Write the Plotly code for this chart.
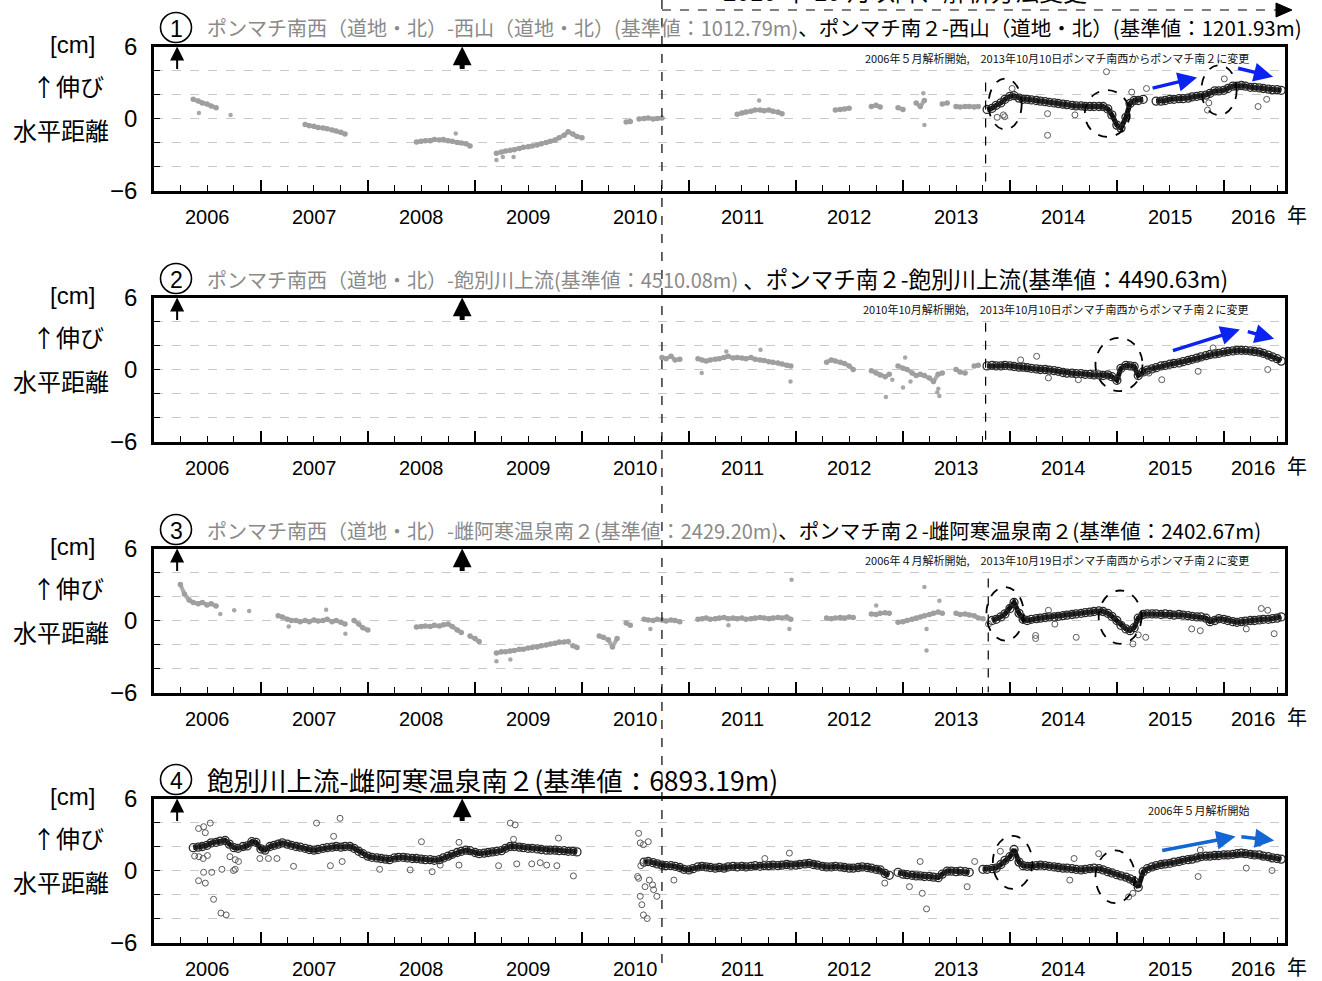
import numpy as np
import pandas as pd
import plotly.graph_objects as go

# ------------------------------------------------------------------ data
x_start, x_end = "2006-01-01", "2016-07-28"
year_labels = ["2006", "2007", "2008", "2009", "2010", "2011", "2012", "2013", "2014", "2015", "2016"]
year_label_dates = ["2006-07-02", "2007-07-02", "2008-07-02", "2009-07-02", "2010-07-02", "2011-07-02",
                    "2012-07-02", "2013-07-02", "2014-07-02", "2015-07-02", "2016-04-10"]
y_tickvals = [-6, -4, -2, 0, 2, 4, 6]
y_ticktext = ["−6", "", "", "0", "", "", "6"]
eruption_dates = ["2006-03-21", "2008-11-18"]
method_change_date = "2010-10-01"
station_change_dates = ["2013-10-10", "2013-10-10", "2013-10-19", None]

panel_numbers = ["1", "2", "3", "4"]
header_grey = ["ポンマチ南西（道地・北）-西山（道地・北）(基準値：1012.79m)",
               "ポンマチ南西（道地・北）-飽別川上流(基準値：4510.08m)",
               "ポンマチ南西（道地・北）-雌阿寒温泉南２(基準値：2429.20m)",
               ""]
header_black = ["、ポンマチ南２-西山（道地・北）(基準値：1201.93m)",
                " 、ポンマチ南２-飽別川上流(基準値：4490.63m)",
                "、ポンマチ南２-雌阿寒温泉南２(基準値：2402.67m)",
                "飽別川上流-雌阿寒温泉南２(基準値：6893.19m)"]
header_grey_size = [20, 20, 20, 20]
header_black_size = [20.5, 22.5, 20.5, 26.5]
notes = ["2006年５月解析開始,　2013年10月10日ポンマチ南西からポンマチ南２に変更",
         "2010年10月解析開始,　2013年10月10日ポンマチ南西からポンマチ南２に変更",
         "2006年４月解析開始,　2013年10月19日ポンマチ南西からポンマチ南２に変更",
         "2006年５月解析開始"]
top_note = "2010 年 10 月以降、解析方法変更"

# ---- panel 1 : semi-monthly readings (start date of each run, values in cm)
p1_grey_starts = ["2006-05-15", "2007-06-01", "2008-06-15", "2009-03-15", "2010-06-01", "2011-06-15",
                  "2012-05-15", "2012-09-15", "2012-12-15", "2013-02-15", "2013-05-15", "2013-07-01"]
p1_grey_values = [
    [1.6, 1.45, 1.3, 1.2, 1.05, 0.9],
    [-0.5, -0.6, -0.65, -0.75, -0.8, -0.85, -0.95, -1.05, -1.15, -1.3],
    [-1.95, -1.9, -1.85, -1.85, -1.75, -1.8, -1.75, -1.85, -1.9, -2.0, -2.05, -2.1, -2.3],
    [-2.9, -2.8, -2.7, -2.65, -2.6, -2.5, -2.4, -2.35, -2.3, -2.2, -2.1, -2.0, -1.9, -1.8, -1.6, -1.4,
     -1.1, -1.3, -1.5, -1.6],
    [-0.3, -0.25, None, -0.05, 0.0, 0.05, -0.05, 0.0, 0.05],
    [0.35, 0.45, 0.55, 0.6, 0.7, 0.7, 0.65, 0.7, 0.6, 0.55, 0.4],
    [0.7, 0.75, 0.8, 0.85],
    [1.0, 1.1, 0.95],
    [0.9, 0.75],
    [1.3, 1.0, 1.5],
    [1.2, 1.3],
    [1.0, 0.95, 1.0, 1.0, 0.95, 1.0],
]
p1_grey_out_t = [2006.42, 2006.716, 2008.82, 2009.2, 2009.26, 2009.36, 2011.657, 2013.19, 2013.2]
p1_grey_out_v = [0.45, 0.3, -1.25, -3.45, -3.2, -3.2, 1.5, 2.1, -0.55]
p1_black_starts = ["2013-10-15"]
p1_black_values = [[
    0.75, 0.85, 1.1, 1.3, 1.6,
    1.85, 1.9, 1.7, 1.6, 1.6, 1.55, 1.5, 1.45, 1.4, 1.35, 1.3, 1.25, 1.2, 1.15, 1.1, 1.05, 1.05, 1.0,
    1.0, 1.0, 1.0, 1.0, 0.8, 0.3,
    -0.55, -0.8, 0.1, 1.25, 1.5, 1.5, 1.6, None, None, 1.45, 1.45, 1.5, 1.6, 1.6, 1.65, 1.65, 1.7, 1.8,
    1.85, 1.9, 1.95, 2.1, 2.3, 2.3,
    2.35, 2.5, 2.7, 2.7, 2.75, 2.7, 2.6, 2.6, 2.55, 2.5, 2.45, 2.4, 2.4, 2.35]]
p1_black_out_t = [2013.88, 2013.939, 2013.951, 2014.02, 2014.352, 2014.352, 2014.608, 2014.903, 2015.139,
                  2015.277, 2015.848, 2015.86, 2016.005, 2016.32, 2016.4]
p1_black_out_v = [0.1, 0.3, 0.15, 2.5, 0.4, -1.4, 0.3, 3.9, 2.2, 2.5, 0.7, 1.3, 3.3, 1.0, 1.6]

# ---- panel 2
p2_grey_starts = ["2010-10-01", "2011-02-01", "2012-04-15", "2012-09-15", "2012-12-15", "2013-07-01",
                  "2013-09-01"]
p2_grey_values = [
    [1.0, 0.9, 1.1, 0.8, 0.85],
    [0.9, 0.8, 0.7, 0.8, 0.85, 0.9, 1.0, 1.1, 0.95, 1.0, 0.95, 0.9, 1.0, 0.85, 0.8, 0.75, 0.65, 0.6,
     0.55, 0.45, 0.35, 0.3],
    [0.6, 0.8, 0.7, 0.6, 0.5, 0.3, 0.0],
    [-0.1, -0.3, -0.45, -0.6, -0.4],
    [0.3, 0.1, 0.0, -0.3, -0.5, -0.4, -0.5, -0.7, -1.0, -0.4, -0.3],
    [0.0, -0.2, -0.3],
    [0.3, 0.35],
]
p2_grey_out_t = [2011.12, 2011.95, 2011.35, 2011.67, 2012.84, 2013.0, 2013.07, 2013.33, 2013.34, 2013.32,
                 2012.9, 2013.02]
p2_grey_out_v = [-0.3, -1.0, 1.5, 1.65, -2.3, -1.5, -1.0, -1.6, -2.2, -1.9, -0.85, 1.0]
p2_black_starts = ["2013-10-15"]
p2_black_values = [[
    0.3, 0.35, 0.3, 0.3, 0.35,
    0.3, 0.25, 0.2, 0.2, 0.15, 0.1, 0.05, 0.0, 0.0, -0.05, -0.1, -0.15, -0.25, -0.3, -0.3, -0.35, -0.35,
    -0.4, -0.4, -0.45, -0.45, -0.5, -0.45, -0.6,
    -0.9, 0.1, 0.35, 0.3, 0.25, -0.5, -0.2, -0.05, 0.05, 0.15, 0.3, 0.35, 0.45, 0.5, 0.55, 0.65, 0.75,
    0.85, 0.95, 1.05, 1.15, 1.25, 1.3, 1.35,
    1.45, 1.5, 1.55, 1.6, 1.6, 1.6, 1.55, 1.5, 1.45, 1.35, 1.2, 1.05, 0.9, 0.7]]
p2_black_out_t = [2014.1, 2014.25, 2014.36, 2014.64, 2015.3, 2015.42, 2015.76, 2015.9, 2016.41]
p2_black_out_v = [0.8, 1.1, -0.7, -0.85, -0.3, -0.85, -0.15, 1.8, 0.0]

# ---- panel 3
p3_grey_starts = ["2006-04-01", "2007-03-01", "2007-11-15", "2008-06-15", "2008-12-15", "2009-03-15",
                  "2009-12-01", "2010-03-01", "2010-06-01", "2010-08-01", "2011-02-01", "2012-04-15",
                  "2012-09-15", "2012-12-15", "2013-07-01"]
p3_grey_values = [
    [3.0, 2.2, 1.7, 1.5, 1.4, 1.5, 1.3, 1.4, 1.2],
    [0.4, 0.3, 0.1, 0.0, 0.0, -0.1, 0.0, -0.1, 0.05, -0.05, 0.0, 0.1, -0.1, 0.0, -0.15, -0.3],
    [0.0, -0.3, -0.6, -0.8],
    [-0.55, -0.5, -0.45, -0.5, -0.4, -0.45, -0.35, -0.3, -0.5, -0.8, -1.0],
    [-1.3, -1.5, -1.75],
    [-2.7, -2.6, -2.6, -2.55, -2.5, -2.4, -2.4, -2.3, -2.25, -2.2, -2.1, -2.05, -1.95, -1.9, -1.8, -1.8,
     -1.75],
    [-2.1, -2.25],
    [-1.3, -1.4, -1.6, -2.2, -1.5],
    [-0.2, -0.4],
    [0.1, 0.05, 0.0, 0.1, 0.05, -0.05, 0.05, 0.0, -0.1],
    [0.1, 0.15, 0.2, 0.1, 0.15, 0.2, 0.25, 0.15, 0.2, 0.15, 0.2, 0.1, 0.15, 0.2, 0.25, 0.2, 0.15, 0.2,
     0.25, 0.2, 0.3, 0.1],
    [0.2, 0.15, 0.2, 0.25, 0.2, 0.3, 0.25],
    [0.55, 0.5, 0.6, 0.65, 0.6],
    [-0.15, -0.1, 0.0, 0.1, 0.2, 0.3, 0.4, 0.5, 0.6, 0.7, 0.6],
    [0.6, 0.5, 0.55, 0.45, 0.4, 0.2, 0.15],
]
p3_grey_out_t = [2006.62, 2006.75, 2006.89, 2007.26, 2007.61, 2007.79, 2009.2, 2009.33, 2010.64, 2011.37,
                 2011.94, 2011.96, 2012.75, 2013.2, 2013.22, 2013.22, 2013.34]
p3_grey_out_v = [0.55, 0.85, 0.8, -0.5, 0.9, -1.1, -3.4, -3.25, -0.7, -0.4, -0.7, 3.4, 1.25, 2.8, -2.5,
                 -0.7, 1.65]
p3_black_starts = ["2013-11-01"]
p3_black_values = [[
    0.0, 0.1, 0.3, 0.55,
    1.0, 1.5, 0.6, 0.1, 0.0, 0.1, 0.15, 0.2, 0.25, 0.3, 0.3, 0.35, 0.4, 0.45, 0.5, 0.55, 0.6, 0.65, 0.7,
    0.75, 0.8, 0.75, 0.6, 0.35,
    0.0, -0.4, -0.7, -0.85, -0.6, 0.2, 0.5, 0.55, 0.55, 0.55, 0.5, 0.55, 0.5, 0.45, 0.5, 0.45, 0.4, 0.35,
    0.3, 0.3, 0.2, -0.1, 0.0, 0.15,
    0.1, 0.0, -0.1, -0.15, -0.1, -0.05, 0.0, 0.0, 0.05, 0.1, 0.1, 0.15, 0.2, 0.3]]
p3_black_out_t = [2013.8, 2014.24, 2014.24, 2014.36, 2014.42, 2014.62, 2015.15, 2015.2, 2015.27, 2015.7,
                  2015.78, 2016.21, 2016.35, 2016.41, 2016.47]
p3_black_out_v = [-0.3, -1.25, -1.5, 0.85, -0.3, -1.4, -1.95, -1.2, -1.4, -0.7, -0.85, -0.7, 1.0, 0.85,
                  -1.1]

# ---- panel 4
p4_grey_starts = []
p4_grey_values = []
p4_grey_out_t = []
p4_grey_out_v = []
p4_black_starts = ["2006-05-15", "2010-08-01"]
p4_black_values = [
    [1.9, 1.95, 2.0, 2.1, 2.3, 2.35, 2.45, 2.5, 2.2, 1.9,
     1.85, 2.0, 2.05, 2.4, 2.35, 1.8, 1.7, 2.0, 2.1, 2.2,
     2.3, 2.2, 2.1, 2.0, 1.95, 1.85, 1.75, 1.7, 1.75, 1.85,
     1.9, 1.95, 2.0, 1.95, 2.0, 2.0, 1.85, 1.6, 1.4, 1.2,
     1.1, 1.05, 1.0, 0.95, 0.9, 1.05, 1.1, 1.1, 1.05, 1.0,
     1.0, 0.95, 0.9, 0.9, 0.85, 0.9, 1.05, 1.2, 1.35, 1.5,
     1.6, 1.7, 1.65, 1.5, 1.4, 1.45, 1.5, 1.55, 1.6, 1.65,
     1.85, 2.0, 2.0, 1.95, 1.9, 1.85, 1.85, 1.8, 1.75, 1.7,
     1.7, 1.7, 1.65, 1.65, 1.6, 1.6, 1.55],
    [0.7, 0.75, 0.65, 0.55, 0.45, 0.4, 0.4, 0.35, 0.25, 0.1,
     0.05, 0.15, 0.3, 0.35, 0.3, 0.25, 0.2, 0.25, 0.2, 0.3, 0.35, 0.3, 0.35, 0.3, 0.35, 0.4, 0.35, 0.4,
     0.4, 0.45, 0.4, 0.45, 0.5, 0.45,
     0.45, 0.5, 0.55, 0.6, 0.5, 0.45, 0.35, 0.3, 0.3, 0.35, 0.3, 0.25, 0.2, 0.2, 0.25, 0.3, 0.25, 0.2,
     0.1, 0.05, -0.25, -0.4, None, -0.15,
     -0.3, -0.35, -0.4, -0.45, -0.45, -0.5, -0.5, -0.55, -0.6, -0.3, -0.05, -0.05, -0.1, -0.05, -0.1,
     -0.15, None, None, 0.1, 0.1, 0.15, 0.2, 0.5, 0.85,
     1.15, 1.75, 0.7, 0.4, 0.35, 0.35, 0.4, 0.45, 0.4, 0.35, 0.3, 0.25, 0.2, 0.2, 0.15, 0.1, 0.05, 0.1,
     0.15, 0.2, 0.15, 0.05, -0.1, -0.2,
     -0.35, -0.45, -0.55, -0.7, -0.9, -1.4, -0.1, 0.15, 0.3, 0.4, 0.5, 0.55, 0.6, 0.7, 0.75, 0.85, 0.9,
     0.95, 1.05, 1.15, 1.2, 1.2, 1.25, 1.25,
     1.3, 1.3, 1.35, 1.4, 1.45, 1.4, 1.35, 1.3, 1.3, 1.2, 1.15, 1.05, 1.0, 0.95],
]
p4_black_out_t = [
    2006.38, 2006.42, 2006.46, 2006.5, 2006.417, 2006.464, 2006.526, 2006.48, 2006.417, 2006.48, 2006.464,
    2006.54, 2006.557, 2006.626, 2006.675, 2006.635, 2006.744, 2006.76, 2006.71, 2006.76, 2006.79, 2006.99,
    2007.07, 2007.15, 2007.305, 2007.52, 2007.74, 2007.68, 2007.76, 2007.65, 2008.11, 2008.395, 2008.5,
    2008.6, 2008.675, 2008.85, 2008.85, 2009.33, 2009.375, 2009.36, 2009.22, 2009.39, 2009.53, 2009.61,
    2009.67, 2009.765, 2009.78, 2009.92,
    2010.52, 2010.53, 2010.53, 2010.545, 2010.545, 2010.55, 2010.56, 2010.575, 2010.575, 2010.59, 2010.6,
    2010.61, 2010.62, 2010.63, 2010.66, 2010.67, 2010.7,
    2010.86, 2011.71, 2011.94, 2012.83, 2013.06, 2013.16, 2013.18, 2013.22, 2013.6, 2013.67, 2013.91,
    2014.56, 2014.6, 2014.83, 2015.11, 2015.15, 2015.76, 2015.78, 2016.21, 2016.33, 2016.45]
p4_black_out_v = [
    1.2, 1.15, 1.0, 1.25, 3.5, 3.65, 3.95, 3.15, -0.85, -1.05, -0.15,
    -0.15, -2.4, -3.55, -3.7, 0.1, 0.0, 0.1, 1.15, 0.9, 0.75, 1.0,
    1.0, 1.0, 0.35, 3.95, 4.35, 2.85, 0.75, 0.4, 0.1, 0.05, 2.4,
    -0.1, 0.45, 2.35, 0.45, 3.95, 3.8, 2.6, 0.4, 0.55, 0.55, 0.65,
    0.45, 0.4, 2.7, -0.45,
    -0.5, 3.1, -0.65, 2.3, -2.15, 0.4, -2.85, 2.15, -3.7, -1.35, 0.75,
    -4.0, 2.4, -0.8, -1.2, -1.6, -2.15,
    -0.8, 1.0, 1.45, -1.05, -1.35, 0.75, -1.9, -3.2, -1.35, 0.75, 1.6,
    -0.8, 1.0, 1.4, -2.2, -1.9, -0.5, 1.7, 0.2, 2.3, 0.0]

# ---- annotations drawn on the panels (decimal year, cm)
ellipses = [
    [(2013.80, 3.33, 2014.11, -0.92), (2014.70, 2.36, 2015.12, -1.53), (2015.79, 4.44, 2016.12, 0.28)],
    [(2014.80, 2.64, 2015.24, -1.80)],
    [(2013.78, 2.78, 2014.13, -1.67), (2014.83, 2.50, 2015.23, -1.94)],
    [(2013.84, 2.89, 2014.21, -1.53), (2014.80, 1.67, 2015.17, -2.72)],
]
blue_arrows = [
    [(2015.32, 2.50, 2015.75, 3.42), (2016.12, 4.22, 2016.46, 3.47)],
    [(2015.51, 1.53, 2016.15, 3.33), (2016.21, 3.19, 2016.47, 2.56)],
    [],
    [(2015.41, 1.64, 2016.11, 2.83), (2016.15, 2.83, 2016.47, 2.50)],
]
blue_colors = ["#0b22f0", "#0b22f0", "#0b22f0", "#1466d2"]
change_line_top = [3.0, 3.9, 3.5, None]

# ------------------------------------------------------------------ helpers
W, H = 1322, 981
X0PX, X1PX = 154, 1285
PANEL_TOP = [46.5, 297.5, 548.5, 798.5]
PANEL_H = 144
JP = "Noto Sans CJK JP"
LAT = "Liberation Sans"


def px(v):
    return v / W


def py(v):
    return 1 - v / H


def yr2date(v):
    yi = int(np.floor(v))
    s = pd.Timestamp(year=yi, month=1, day=1)
    e = pd.Timestamp(year=yi + 1, month=1, day=1)
    return s + (e - s) * (v - yi)


def runs(starts, values):
    xs, ys = [], []
    for s, v in zip(starts, values):
        xs += list(pd.date_range(s, periods=len(v), freq="SMS")) + [None]
        ys += list(v) + [None]
    return xs, ys


panels = [
    dict(gs=p1_grey_starts, gv=p1_grey_values, got=p1_grey_out_t, gov=p1_grey_out_v,
         bs=p1_black_starts, bv=p1_black_values, bot=p1_black_out_t, bov=p1_black_out_v),
    dict(gs=p2_grey_starts, gv=p2_grey_values, got=p2_grey_out_t, gov=p2_grey_out_v,
         bs=p2_black_starts, bv=p2_black_values, bot=p2_black_out_t, bov=p2_black_out_v),
    dict(gs=p3_grey_starts, gv=p3_grey_values, got=p3_grey_out_t, gov=p3_grey_out_v,
         bs=p3_black_starts, bv=p3_black_values, bot=p3_black_out_t, bov=p3_black_out_v),
    dict(gs=p4_grey_starts, gv=p4_grey_values, got=p4_grey_out_t, gov=p4_grey_out_v,
         bs=p4_black_starts, bv=p4_black_values, bot=p4_black_out_t, bov=p4_black_out_v),
]

fig = go.Figure()
annotations, shapes = [], []
layout_axes = {}

for i, P in enumerate(panels):
    xn = "x" if i == 0 else f"x{i+1}"
    yn = "y" if i == 0 else f"y{i+1}"
    top = PANEL_TOP[i]
    bot = top + PANEL_H

    # grey (old baseline) data
    if P["gs"]:
        gx, gy = runs(P["gs"], P["gv"])
        fig.add_trace(go.Scatter(x=gx, y=gy, mode="lines+markers", connectgaps=False,
                                 line=dict(color="#ababab", width=4),
                                 marker=dict(color="#9f9f9f", size=5.5),
                                 xaxis=xn, yaxis=yn, showlegend=False, hoverinfo="skip"))
    if P["got"]:
        fig.add_trace(go.Scatter(x=[yr2date(t) for t in P["got"]], y=P["gov"], mode="markers",
                                 marker=dict(color="#a8a8a8", size=4.5),
                                 xaxis=xn, yaxis=yn, showlegend=False, hoverinfo="skip"))
    # black (current) data
    bx, by = runs(P["bs"], P["bv"])
    fig.add_trace(go.Scatter(x=bx, y=by, mode="lines+markers", connectgaps=False,
                             line=dict(color="#111111", width=5),
                             marker=dict(symbol="circle-open", color="#2b2b2b", size=8,
                                         line=dict(width=1.3)),
                             xaxis=xn, yaxis=yn, showlegend=False, hoverinfo="skip"))
    fig.add_trace(go.Scatter(x=[yr2date(t) for t in P["bot"]], y=P["bov"], mode="markers",
                             marker=dict(symbol="circle-open", color="#5a5a5a", size=6,
                                         line=dict(width=1)),
                             xaxis=xn, yaxis=yn, showlegend=False, hoverinfo="skip"))

    layout_axes["xaxis" if i == 0 else f"xaxis{i+1}"] = dict(
        domain=[px(X0PX), px(X1PX)], range=[x_start, x_end], type="date", anchor=yn,
        showgrid=False, zeroline=False, showline=True, linecolor="black", linewidth=2.5, mirror=True,
        ticks="inside", ticklen=11, tickwidth=1.5, tickcolor="black", dtick="M12", tick0="2006-01-01",
        showticklabels=False,
        minor=dict(ticks="inside", dtick="M3", tick0="2006-01-01", ticklen=6, tickwidth=1.2,
                   tickcolor="black", showgrid=False))
    layout_axes["yaxis" if i == 0 else f"yaxis{i+1}"] = dict(
        domain=[py(bot), py(top)], range=[-6, 6], anchor=xn,
        tickmode="array", tickvals=y_tickvals, ticktext=y_ticktext,
        ticks="inside", ticklen=6, tickwidth=1, tickcolor="black",
        showgrid=True, gridcolor="#c9c9c9", griddash="dash", gridwidth=1, zeroline=False,
        showline=True, linecolor="black", linewidth=2.5, mirror=True,
        tickfont=dict(size=24, family=LAT, color="black"), ticklabelstandoff=9)

    # y-axis title (three lines)
    for txt, dy, cx, fam in [("[cm]", -2, 72, LAT), ("↑伸び", 39, 68, JP), ("水平距離", 83, 61, JP)]:
        annotations.append(dict(text=txt, xref="paper", yref="paper", x=px(cx), y=py(top + dy),
                                xanchor="center", yanchor="middle", showarrow=False,
                                font=dict(size=24, family=fam, color="black")))
    # year labels
    for lab, d in zip(year_labels, year_label_dates):
        annotations.append(dict(text=lab, xref=xn, yref="paper", x=d, y=py(bot + 26),
                                xanchor="center", yanchor="middle", showarrow=False,
                                font=dict(size=20, family=LAT, color="black")))
    annotations.append(dict(text="年", xref="paper", yref="paper", x=px(1297), y=py(bot + 24),
                            xanchor="center", yanchor="middle", showarrow=False,
                            font=dict(size=20, family=JP, color="black")))
    # header with circled number
    hdr_y = top - 19
    shapes.append(dict(type="circle", xref="paper", yref="paper", x0=px(160.5), x1=px(191.5),
                       y0=py(hdr_y + 15), y1=py(hdr_y - 15), line=dict(color="black", width=1.6)))
    annotations.append(dict(text=panel_numbers[i], xref="paper", yref="paper", x=px(176), y=py(hdr_y + 1),
                            xanchor="center", yanchor="middle", showarrow=False,
                            font=dict(size=23, family=LAT, color="black")))
    hdr = ""
    if header_grey[i]:
        hdr += (f'<span style="color:#8a8a8a;font-size:{header_grey_size[i]}px">'
                f'{header_grey[i]}</span>')
    hdr += f'<span style="color:#000;font-size:{header_black_size[i]}px">{header_black[i]}</span>'
    annotations.append(dict(text=hdr, xref="paper", yref="paper", x=px(205), y=py(hdr_y),
                            xanchor="left", yanchor="middle", showarrow=False,
                            font=dict(size=20, family=JP, color="black")))
    # small note
    annotations.append(dict(text=notes[i], xref="paper", yref="paper", x=px(1251), y=py(top + 11),
                            xanchor="right", yanchor="middle", showarrow=False,
                            font=dict(size=11, family=JP, color="#111")))
    # eruption arrows
    for k, d in enumerate(eruption_dates):
        annotations.append(dict(x=d, y=6, ax=d, ay=4, xref=xn, yref=yn, axref=xn, ayref=yn,
                                showarrow=True, arrowhead=2, arrowsize=1.4 if k == 0 else 0.75,
                                arrowwidth=2 if k == 0 else 5, arrowcolor="black", text="",
                                standoff=0, startstandoff=0))
    # station change line
    if station_change_dates[i]:
        shapes.append(dict(type="line", xref=xn, yref=yn, x0=station_change_dates[i],
                           x1=station_change_dates[i], y0=change_line_top[i], y1=-6,
                           line=dict(color="black", width=1.2, dash="dash")))
    # dashed ellipses
    for (t0, v0, t1, v1) in ellipses[i]:
        shapes.append(dict(type="circle", xref=xn, yref=yn, x0=yr2date(t0), x1=yr2date(t1),
                           y0=v1, y1=v0, line=dict(color="black", width=1.8, dash="dash")))
    # blue arrows
    for (t0, v0, t1, v1) in blue_arrows[i]:
        annotations.append(dict(x=yr2date(t1), y=v1, ax=yr2date(t0), ay=v0, xref=xn, yref=yn,
                                axref=xn, ayref=yn, showarrow=True, arrowhead=2, arrowsize=1.1,
                                arrowwidth=3.5, arrowcolor=blue_colors[i], text="", standoff=0))

# analysis-method change line through all panels and the dashed arrow at the top
shapes.append(dict(type="line", xref="x", yref="paper", x0=method_change_date, x1=method_change_date,
                   y0=py(963), y1=1, line=dict(color="black", width=1.2, dash="dash")))
shapes.append(dict(type="line", xref="x", yref="paper", x0=method_change_date, x1=yr2date(2016.5),
                   y0=py(10), y1=py(10), line=dict(color="black", width=1.2, dash="dash")))
shapes.append(dict(type="path", xref="paper", yref="paper",
                   path=f"M {px(1276)},{py(3)} L {px(1276)},{py(17)} L {px(1292)},{py(10)} Z",
                   fillcolor="black", line=dict(color="black", width=1)))
annotations.append(dict(text=top_note, xref="paper", yref="paper", x=px(905), y=py(-8),
                        xanchor="center", yanchor="middle", showarrow=False,
                        font=dict(size=24, family=f"{LAT}, {JP}", color="black")))

fig.update_layout(
    width=W, height=H, margin=dict(l=0, r=0, t=0, b=0, autoexpand=False),
    paper_bgcolor="white", plot_bgcolor="white",
    font=dict(family=f"{LAT}, {JP}", color="black"),
    showlegend=False, annotations=annotations, shapes=shapes, **layout_axes)

fig.write_html("out.html")
